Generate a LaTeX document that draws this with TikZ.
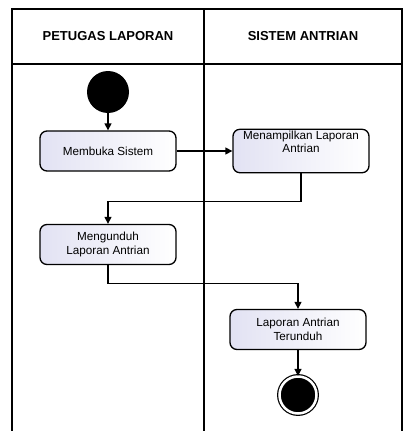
\documentclass[tikz,border=0pt]{standalone}
\usepackage{fontspec}
\setmainfont{Liberation Sans}
\usepackage{tikz}
\usetikzlibrary{arrows.meta, positioning}
\definecolor{ungu}{HTML}{E2E2F3}
\tikzset{
	>={Triangle[length=7pt, width=7pt]},
	% garis swimlane
	lajur/.style={line width=2.6pt},
	% judul lajur
	judul/.style={font=\bfseries\fontsize{13}{15}\selectfont},
	% aktivitas
	aktivitas/.style={draw, line width=1.3pt, rectangle, rounded corners=7pt,
	                  left color=ungu, right color=white, minimum width=136pt, minimum height=40pt,
	                  align=center, inner sep=2pt, font=\fontsize{11.7}{14}\selectfont},
	% node awal
	awal/.style={circle, fill=black, inner sep=0pt, minimum size=42pt},
	% node akhir
	akhir/.style={circle, fill=black, draw=black, line width=1.2pt, double=white,
	              double distance=2.5pt, inner sep=0pt, minimum size=37pt},
	% alur
	alur/.style={->, line width=1.3pt},
}

\begin{document}
\begin{tikzpicture}[x=1pt, y=-1pt]
    \useasboundingbox (0,0) rectangle (403,431);

    % ---------------- swimlane ----------------
    \draw[lajur] (12,431) -- (12,9) -- (402,9) -- (402,431);
    \draw[lajur] (12,64) -- (402,64);
    \draw[lajur] (204,9) -- (204,431);
    \node[judul] (jpetugas) at (108,36.5) {PETUGAS LAPORAN};
    \node[judul] (jsistem) at (303,36.5) {SISTEM ANTRIAN};

    % ---------------- aktivitas ----------------
    \node[awal] (mulai) at (108,92) {};
    \node[aktivitas] (buka) at (108,151) {Membuka Sistem};
    \node[aktivitas] (tampil) at (301,151) {Menampilkan Laporan\\[-1pt]Antrian\\[4pt]};
    \node[aktivitas] (unduh) at (108,244.5) {Mengunduh\\Laporan Antrian};
    \node[aktivitas] (terunduh) at (298,329.5) {Laporan Antrian\\Terunduh};
    \node[akhir] (selesai) at (298,395) {};

    % ---------------- alur ----------------
    \draw[alur] (mulai) -- (buka);
    \draw[alur] (buka) -- (tampil);
    \draw[alur] (tampil.south) -- ++(0,28) -| (unduh.north);
    \draw[alur] (unduh.south) -- ++(0,18) -| (terunduh.north);
    \draw[alur] (terunduh) -- (selesai);
\end{tikzpicture}
\end{document}
